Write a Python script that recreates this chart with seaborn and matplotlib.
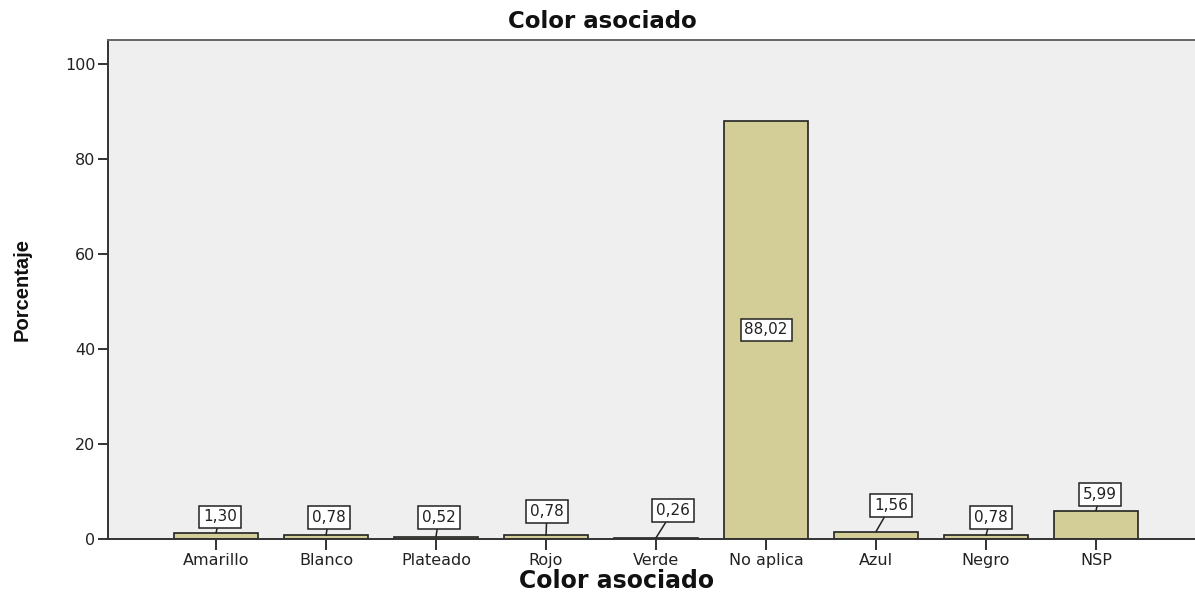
import matplotlib
matplotlib.use("Agg")
import matplotlib.pyplot as plt
import seaborn as sns
import pandas as pd

# Percentage of answers per associated colour
categorias = ["Amarillo", "Blanco", "Plateado", "Rojo", "Verde",
              "No aplica", "Azul", "Negro", "NSP"]
porcentajes = [1.30, 0.78, 0.52, 0.78, 0.26, 88.02, 1.56, 0.78, 5.99]
etiquetas = ["1,30", "0,78", "0,52", "0,78", "0,26", "88,02", "1,56", "0,78", "5,99"]
yticks = [0, 20, 40, 60, 80, 100]

# Label box offsets (pixels) from the top of each bar; None = inside the bar
label_offsets = [(4, 16), (3, 18), (3, 19), (1, 24), (17, 27),
                 None, (15, 26), (5, 18), (4, 16)]

sns.set_style("white")
plt.rcParams["font.family"] = ["DejaVu Sans"]

BAR = "#d3ce97"
INK = "#222222"

df = pd.DataFrame({"Color asociado": categorias, "Porcentaje": porcentajes})

fig = plt.figure(figsize=(11.95, 5.92), dpi=100)
ax = fig.add_axes([108 / 1195, 1 - 539 / 592, 1 - 108 / 1195, 499 / 592])
ax.set_facecolor("#efefef")

sns.barplot(data=df, x="Color asociado", y="Porcentaje", order=categorias,
            color=BAR, edgecolor=INK, linewidth=1.2, width=0.76,
            saturation=1, errorbar=None, ax=ax)

ax.set_xlim(-0.982, 8.90)
ax.set_ylim(0, 105.05)
ax.set_yticks(yticks)
ax.set_yticklabels([str(t) for t in yticks])

for side in ("left", "top", "bottom"):
    ax.spines[side].set_visible(True)
    ax.spines[side].set_color("#333333")
    ax.spines[side].set_linewidth(1.4)
ax.spines["right"].set_visible(False)
ax.spines["top"].set_color("#666666")

ax.tick_params(axis="both", direction="out", length=7, width=1.4,
               color="#333333", labelcolor=INK, labelsize=11.5, pad=3)
ax.tick_params(axis="x", bottom=True, length=8, pad=2)
ax.tick_params(axis="y", left=True, pad=2)

ax.set_xlabel("Color asociado", fontsize=17, fontweight="bold", color="#111111")
ax.xaxis.set_label_coords((617 - 108) / 1087, (539 - 581) / 499)
ax.xaxis.label.set_va("center")
ax.set_ylabel("Porcentaje", fontsize=14.5, fontweight="bold", color="#111111",
              family=["Liberation Sans", "DejaVu Sans"])
ax.yaxis.set_label_coords((22 - 108) / 1087, 0.5)
ax.yaxis.label.set_va("center")

fig.text(602 / 1195, 1 - 22 / 592, "Color asociado", ha="center", va="center",
         fontsize=16.5, fontweight="bold", color="#111111")

box = dict(boxstyle="square,pad=0.25", facecolor="white", edgecolor=INK, linewidth=1.1)
for i, (v, txt, off) in enumerate(zip(porcentajes, etiquetas, label_offsets)):
    if off is None:
        ax.text(i, v / 2, txt, ha="center", va="center", fontsize=11,
                color=INK, bbox=box)
    else:
        ax.annotate(txt, xy=(i, v), xytext=off, textcoords="offset pixels",
                    ha="center", va="center", fontsize=11, color=INK, bbox=box,
                    arrowprops=dict(arrowstyle="-", color=INK, lw=1.1,
                                    shrinkA=0, shrinkB=0))

fig.savefig("out.png", dpi=100, facecolor="white")
